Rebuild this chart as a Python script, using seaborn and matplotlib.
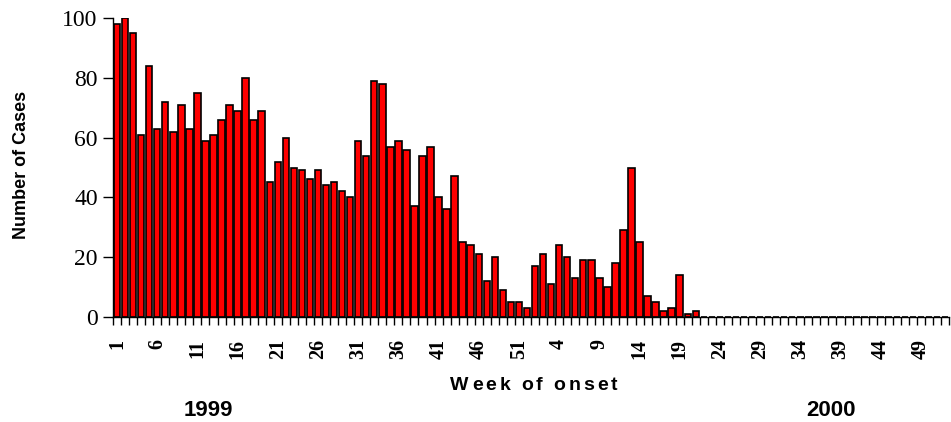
"""Weekly case counts 1999-2000: bar chart by week of onset."""

import numpy as np
import pandas as pd
import matplotlib
matplotlib.use("Agg")
import matplotlib.pyplot as plt
import seaborn as sns

# weekly counts
cases_1999 = [98, 100, 95, 61, 84, 63, 72, 62, 71, 63,
              75, 59, 61, 66, 71, 69, 80, 66, 69, 45,
              52, 60, 50, 49, 46, 49, 44, 45, 42, 40,
              59, 54, 79, 78, 57, 59, 56, 37, 54, 57,
              40, 36, 47, 25, 24, 21, 12, 20, 9, 5,
              5, 3]
cases_2000 = [17, 21, 11, 24, 20, 13, 19, 19, 13, 10,
              18, 29, 50, 25, 7, 5, 2, 3, 14, 1,
              2] + [0] * 31
weeks_1999 = list(range(1, 53))
weeks_2000 = list(range(1, 53))
y_ticks = [0, 20, 40, 60, 80, 100]

df = pd.DataFrame({
    "pos": np.arange(len(cases_1999) + len(cases_2000)),
    "week": weeks_1999 + weeks_2000,
    "cases": cases_1999 + cases_2000,
})

sns.set_style("white")
plt.rcParams["font.family"] = ["Liberation Sans", "DejaVu Sans"]
plt.rcParams.update({"text.color": "black", "axes.labelcolor": "black",
                     "xtick.color": "black", "ytick.color": "black"})

W, H = 951, 422
fig = plt.figure(figsize=(W / 100, H / 100), dpi=100)
ax = fig.add_axes([113 / W, 1 - 317 / H, (949 - 113) / W, (317 - 18) / H])

sns.barplot(data=df, x="pos", y="cases", color="#FF0000", saturation=1,
            edgecolor="black", linewidth=1.2, width=0.8, ax=ax)

n = len(df)
ax.set_xlim(-0.5, n - 0.5)
ax.set_ylim(0, 100)

# x ticks: small marks between bars, labels every 5th week
label_pos = df["pos"][::5].to_numpy()
ax.set_xticks(label_pos)
ax.set_xticklabels([str(w) for w in df["week"][::5]], rotation=90,
                   family="Liberation Serif", fontweight="bold", fontsize=14.5)
ax.set_xticks(np.arange(n + 1) - 0.5, minor=True)
ax.tick_params(axis="x", which="major", length=0, pad=16)
ax.tick_params(axis="x", which="minor", length=6, width=1, color="black",
               direction="out", bottom=True)

ax.set_yticks(y_ticks)
ax.set_yticklabels([str(v) for v in y_ticks], family="Liberation Serif", fontsize=17)
ax.tick_params(axis="y", length=7, width=1, color="black", direction="out",
               left=True, pad=4)

ax.set_xlabel("")
ax.set_ylabel("")
sns.despine(ax=ax)
for s in ["left", "bottom"]:
    ax.spines[s].set_color("black")
    ax.spines[s].set_linewidth(1.0)

fig.text(22 / W, 1 - 165 / H, "Number of Cases", rotation=90, ha="center",
         va="center", fontsize=13, fontweight="bold")

# "Week of onset" with the wide letter spacing of the original
label = "Week of onset"
kw = dict(fontsize=14, fontweight="bold")
r = fig.canvas.get_renderer()
widths = []
for ch in label:
    if ch == " ":
        widths.append(5.0)
        continue
    t = fig.text(0, 0, ch, **kw)
    widths.append(t.get_window_extent(r).width)
    t.remove()
gap = 3.0
total = sum(widths) + gap * (len(label) - 1)
x = 534 - total / 2
for ch, w in zip(label, widths):
    if ch != " ":
        fig.text(x / W, 1 - 385 / H, ch, ha="left", va="center", **kw)
    x += w + gap

fig.text(208 / W, 1 - 411 / H, "1999", ha="center", va="center",
         fontsize=16, fontweight="bold")
fig.text(831 / W, 1 - 411 / H, "2000", ha="center", va="center",
         fontsize=16, fontweight="bold")

fig.savefig("out.png", dpi=100)
plt.close(fig)
